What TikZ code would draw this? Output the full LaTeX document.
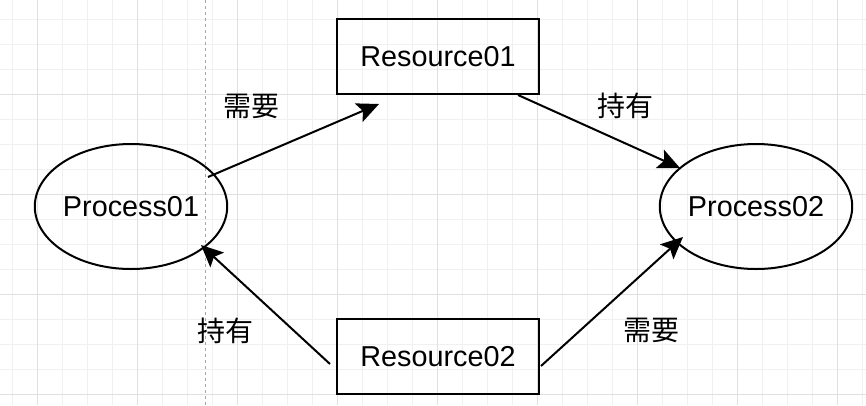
\documentclass[tikz,border=0pt]{standalone}
\usepackage{fontspec}
\setmainfont{Liberation Sans}
\newfontfamily\cjkFont{Noto Sans CJK SC}
\usetikzlibrary{shapes.geometric,arrows.meta}
\newcommand{\nodeFont}{\fontsize{28.8}{34}\selectfont}
\newcommand{\labelFont}{\fontsize{28}{34}\selectfont\cjkFont}

\begin{document}
\begin{tikzpicture}[x=1pt, y=-1pt,
		procNode/.style={ellipse, draw, line width=2pt, minimum width=188pt, minimum height=125pt, inner sep=0pt, font=\nodeFont},
		resNode/.style={rectangle, draw, line width=2pt, minimum width=202pt, minimum height=75pt, inner sep=0pt, font=\nodeFont},
		relArrow/.style={line width=2pt, -{Stealth[length=22pt, width=20pt, inset=4.5pt]}},
		relLabel/.style={inner sep=0pt, font=\labelFont},
		gridMinor/.style={draw=black!6, line width=1pt},
		gridMajor/.style={draw=black!12, line width=1pt}]
		\useasboundingbox (0,0) rectangle (866,405);
		\fill[white] (0,0) rectangle (866,405);
		% grid
		\foreach \gx in {12,37,...,862}
			\draw[gridMinor] (\gx,0) -- (\gx,405);
		\foreach \gy in {19,44,...,394}
			\draw[gridMinor] (0,\gy) -- (866,\gy);
		\foreach \gx in {37,137,...,837}
			\draw[gridMajor] (\gx,0) -- (\gx,405);
		\foreach \gy in {94,194,294,394}
			\draw[gridMajor] (0,\gy) -- (866,\gy);
		\draw[black!35, line width=0.8pt, dash pattern=on 3pt off 3pt] (205,0) -- (205,405);
		% shapes
		\node[procNode] (p1) at (131,206.5) {Process01};
		\node[procNode] (p2) at (756,206.5) {Process02};
		\node[resNode] (r1) at (438,56.5) {Resource01};
		\node[resNode] (r2) at (438,356.5) {Resource02};
		% relations
		\draw[relArrow] ([xshift=77pt,yshift=29.5pt]p1.center) -- ([xshift=-59pt,yshift=-9pt]r1.south);
		\draw[relArrow] ([xshift=80pt]r1.south) -- ([xshift=-76pt,yshift=38.5pt]p2.center);
		\draw[relArrow] ([xshift=-108pt,yshift=-7.5pt]r2.center) -- ([xshift=70pt,yshift=-38.5pt]p1.center);
		\draw[relArrow] ([xshift=103pt,yshift=-9.5pt]r2.center) -- ([xshift=-73pt,yshift=-30.5pt]p2.center);
		% labels
		\node[relLabel] (needA) at (251,106) {需要};
		\node[relLabel] (holdA) at (625,106) {持有};
		\node[relLabel] (holdB) at (225,330.5) {持有};
		\node[relLabel] (needB) at (651,330.5) {需要};
\end{tikzpicture}
\end{document}
